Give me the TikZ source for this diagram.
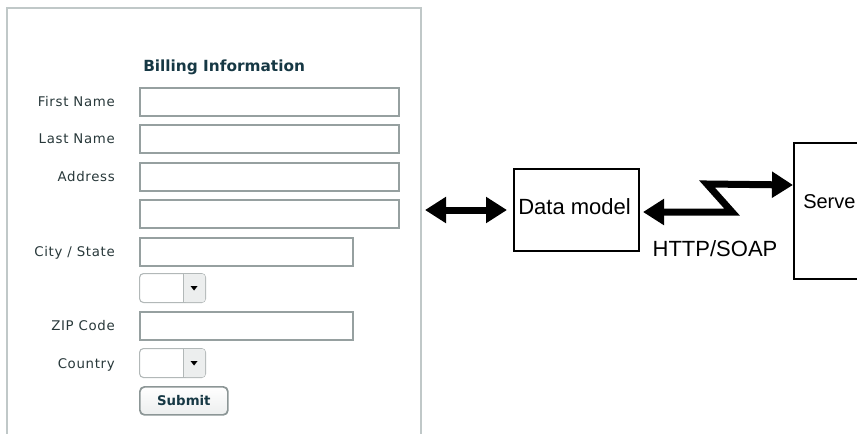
\documentclass[tikz,border=0pt]{standalone}
\usepackage{fontspec}
\setmainfont{Liberation Sans}
\newfontfamily\formfont[LetterSpace=5]{DejaVu Sans}
\newfontfamily\formhead{DejaVu Sans}
\usetikzlibrary{arrows.meta,calc}

\definecolor{panelline}{RGB}{192,200,200}
\definecolor{fieldline}{RGB}{150,160,160}
\definecolor{labelcol}{RGB}{40,56,58}
\definecolor{headcol}{RGB}{22,56,68}
\definecolor{ddline}{RGB}{178,184,184}
\definecolor{ddbtn}{RGB}{236,238,238}
\definecolor{btnline}{RGB}{140,150,150}

\tikzset{
  field/.style={rectangle, draw=fieldline, line width=1.5pt, fill=white,
    inner sep=0pt, anchor=north west, minimum height=28*0.75pt},
  longfield/.style={field, minimum width=259*0.75pt},
  shortfield/.style={field, minimum width=213*0.75pt},
  dropdown/.style={rectangle, rounded corners=3pt, draw=ddline, line width=0.8pt,
    fill=white, inner sep=0pt, anchor=north west,
    minimum width=66*0.75pt, minimum height=29*0.75pt},
  formlabel/.style={font=\formfont\fontsize{10}{12}\selectfont, text=labelcol,
    anchor=base east, inner sep=0pt},
  submitbtn/.style={rectangle, rounded corners=3.5pt, draw=btnline, line width=1.3pt,
    top color=white, bottom color=ddbtn, inner sep=0pt, anchor=north west,
    minimum width=88*0.75pt, minimum height=28*0.75pt,
    font=\formhead\bfseries\fontsize{10}{12}\selectfont, text=headcol},
  dbox/.style={rectangle, draw=black, line width=1.5pt, inner sep=0pt},
  dtext/.style={font=\fontsize{16.5}{20}\selectfont, inner sep=0pt},
  link/.style={line width=5.25pt, line join=miter,
    {Triangle[length=15.75pt,width=18.75pt]}-{Triangle[length=15.75pt,width=18.75pt]}}
}

\begin{document}
\begin{tikzpicture}[x=0.75pt, y=-0.75pt]
\useasboundingbox (0,0) rectangle (857,433);
\clip (0,0) rectangle (857,433);

% form panel
\draw[panelline, line width=1.5pt] (7,445) -- (7,8) -- (421,8) -- (421,445);
\coordinate (formedge) at (421,210);

\node[font=\formhead\bfseries\fontsize{11.5}{14}\selectfont, text=headcol,
  anchor=base west, inner sep=0pt] (title) at (143,71) {Billing Information};

% input fields
\node[longfield] (first) at (139,87) {};
\node[longfield] (last) at (139,124) {};
\node[longfield] (addr1) at (139,162) {};
\node[longfield] (addr2) at (139,199) {};
\node[shortfield] (city) at (139,237) {};
\node[shortfield] (zip) at (139,311) {};

\node[formlabel] (lfirst) at (115,106) {First Name};
\node[formlabel] (llast) at (115,143) {Last Name};
\node[formlabel] (laddr) at (115,181) {Address};
\node[formlabel] (lcity) at (115,256) {City / State};
\node[formlabel] (lzip) at (115,330) {ZIP Code};
\node[formlabel] (lcountry) at (115,368) {Country};

% drop-down lists
\foreach \nm/\top in {state/273, country/348}{
  \node[dropdown] (\nm) at (139,\top) {};
  \fill[ddbtn, rounded corners=2pt] ($(\nm.north east)+(-23,1)$) rectangle ($(\nm.south east)+(-1,-1)$);
  \draw[ddline, line width=0.8pt] ($(\nm.north east)+(-23,0)$) -- ($(\nm.south east)+(-23,0)$);
  \fill[black] ($(\nm.east)+(-15.5,-2)$) -- ++(7,0) -- ++(-3.5,4.5) -- cycle;
}

\node[submitbtn] (submit) at (139,386) {Submit};

% block diagram
\node[dbox, minimum width=125*0.75pt, minimum height=82*0.75pt] (dm) at (576.5,210) {};
\node[dtext, anchor=base west] (dmlbl) at ($(dm.west)+(5,4)$) {Data model};
\node[dbox, anchor=north west, minimum width=100*0.75pt, minimum height=136*0.75pt] (srv) at (793,142) {};
\node[dtext, font=\fontsize{15}{18}\selectfont, anchor=base west] (srvlbl) at (803,208) {Serve};
\node[dtext, anchor=base] (proto) at (715,256) {HTTP/SOAP};

\draw[link, shorten <=3pt, shorten >=4.5pt] (formedge) -- (dm.west);
\draw[link, shorten <=2.25pt] ($(dm.east)+(0,2)$) -- (732,212) -- (707,184) -- ($(srv.west)+(0,-26)$);
\end{tikzpicture}
\end{document}
